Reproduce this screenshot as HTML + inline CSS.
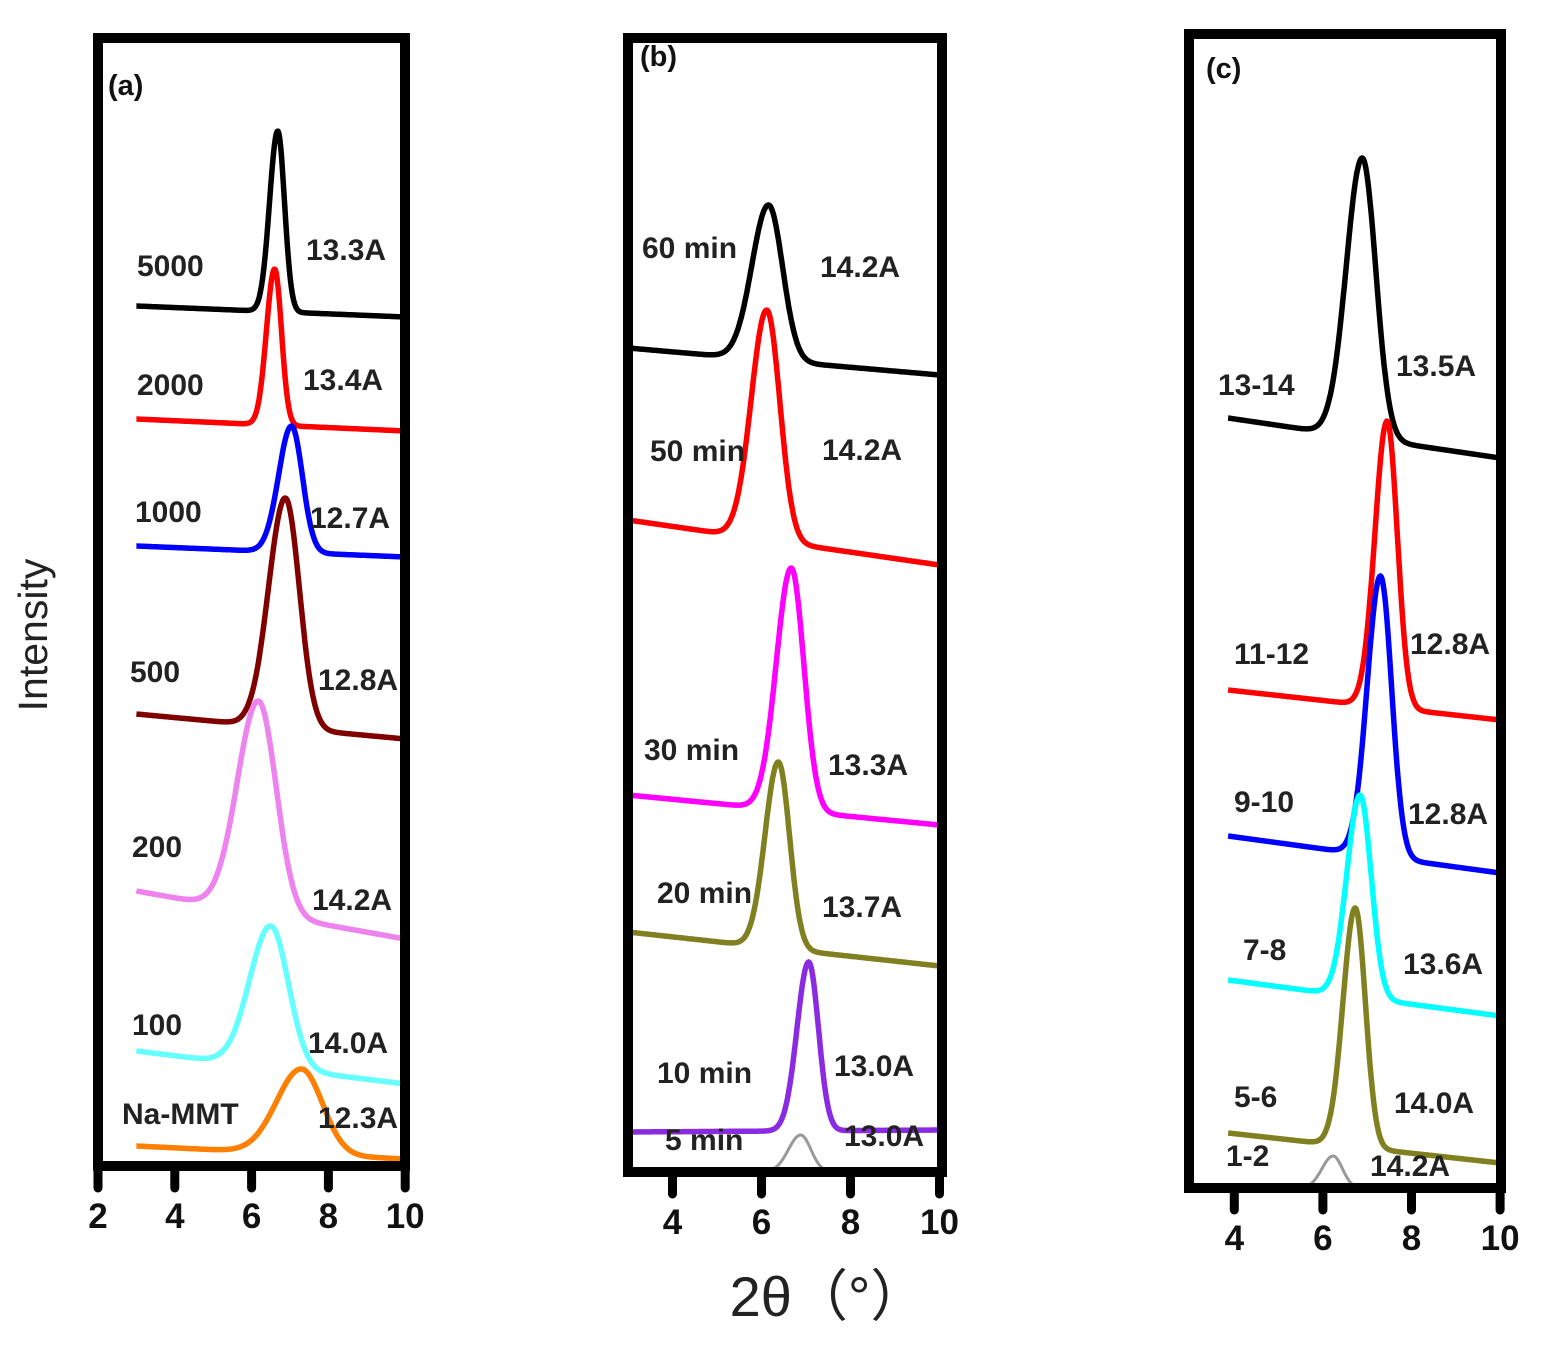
<!DOCTYPE html>
<html><head><meta charset="utf-8"><style>
html,body{margin:0;padding:0;background:#fff;}
svg{display:block;font-family:"Liberation Sans",Arial,sans-serif;}
</style></head><body>
<svg id="fig" width="1547" height="1351" viewBox="0 0 1547 1351">
<text x="47" y="635" transform="rotate(-90 47 635)" text-anchor="middle" font-size="41" fill="#222">Intensity</text>
<text x="828" y="1316" text-anchor="middle" font-size="56" fill="#222" font-family="'Liberation Sans','Noto Sans CJK SC',sans-serif">2θ（°）</text>
</svg>
<script>
// Panel (a)
const aLabels=["5000","2000","1000","500","200","100","Na-MMT"];
const aPeak=[6.68,6.6,7.04,6.88,6.18,6.5,7.3];
const aTop=[1035,897,740,668,465,240,97];
const aLeft=[860,747,620,452,275,115,20];
const aRight=[849,735,609,427,227,82,7];
const aSigma=[0.17,0.17,0.27,0.35,0.44,0.44,0.52];
const aD=["13.3A","13.4A","12.7A","12.8A","14.2A","14.0A","12.3A"];
const aColors=["#000","#f00","#00f","#800000","#ee82ee","#66ffff","#ff8000"];
// Panel (b)
const bLabels=["60 min","50 min","30 min","20 min","10 min","5 min"];
const bPeak=[6.16,6.12,6.67,6.38,7.06,6.88];
const bTop=[967,862,604,410,210,37];
const bLeft=[824,652,377,240,40,0];
const bRight=[797,607,347,206,42,0];
const bSigma=[0.3,0.28,0.27,0.24,0.21,0.22];
const bD=["14.2A","14.2A","13.3A","13.7A","13.0A","13.0A"];
const bColors=["#000","#f00","#ff00ff","#808020","#8a2be2","#999"];
// Panel (c)
const cLabels=["13-14","11-12","9-10","7-8","5-6","1-2"];
const cPeak=[6.89,7.45,7.3,6.84,6.73,6.23];
const cTop=[1030,767,612,393,280,32];
const cLeft=[770,498,352,208,55,0];
const cRight=[730,468,315,172,25,0];
const cSigma=[0.29,0.22,0.24,0.24,0.22,0.2];
const cD=["13.5A","12.8A","12.8A","13.6A","14.0A","14.2A"];
const cColors=["#000","#f00","#00f","#00ffff","#808020","#999"];

const NS="http://www.w3.org/2000/svg";
const svg=document.getElementById('fig');
function mk(t,a){const e=document.createElementNS(NS,t);for(const k in a)e.setAttribute(k,a[k]);svg.appendChild(e);return e;}

const panels=[
 {id:'a',x0:2,px0:98,ppu:38.4,fx:98,fx2:405,fy:38,fy2:1166,bottom:1166,ticks:[2,4,6,8,10],tly:1228,xs:3,xe:10,
  L:aLabels,P:aPeak,T:aTop,Le:aLeft,R:aRight,S:aSigma,D:aD,C:aColors,
  lab:[[137,276],[137,395],[135,522],[130,682],[132,857],[132,1035],[122,1124]],
  dl:[[306,260],[303,390],[310,528],[318,690],[312,910],[308,1053],[318,1128]],title:[108,95]},
 {id:'b',x0:3,px0:628,ppu:44.5,fx:628,fx2:942,fy:38,fy2:1172,bottom:1172,ticks:[4,6,8,10],tly:1234,xs:3,xe:10,
  L:bLabels,P:bPeak,T:bTop,Le:bLeft,R:bRight,S:bSigma,D:bD,C:bColors,
  lab:[[642,258],[650,461],[644,760],[657,903],[657,1083],[665,1150]],
  dl:[[820,277],[822,460],[828,775],[822,917],[834,1076],[844,1146]],title:[640,66]},
 {id:'c',x0:3,px0:1190,ppu:44.3,fx:1189,fx2:1501,fy:34,fy2:1188,bottom:1188,ticks:[4,6,8,10],tly:1250,xs:3.86,xe:10,
  L:cLabels,P:cPeak,T:cTop,Le:cLeft,R:cRight,S:cSigma,D:cD,C:cColors,
  lab:[[1218,395],[1234,664],[1234,812],[1243,960],[1234,1107],[1226,1166]],
  dl:[[1396,376],[1410,654],[1408,824],[1403,974],[1394,1113],[1370,1176]],title:[1206,78]}
];

panels.forEach(p=>{
 const X=v=>p.px0+(v-p.x0)*p.ppu;
 const Y=v=>p.bottom-v;
 p.L.forEach((name,i)=>{
  let xs=p.xs, xe=p.xe;
  const small=p.Le[i]===0;
  if(small){xs=p.P[i]-0.9;xe=p.P[i]+0.9;}
  let d='';
  for(let k=0;k<=300;k++){
   const x=xs+(xe-xs)*k/300;
   const t=(x-p.xs)/(p.xe-p.xs);
   const base=p.Le[i]+(p.R[i]-p.Le[i])*t;
   const baseP=p.Le[i]+(p.R[i]-p.Le[i])*((p.P[i]-p.xs)/(p.xe-p.xs));
   const A=p.T[i]-baseP;
   const dx=x-p.P[i];
   const s=p.S[i]*(dx<0?1.25:1.05);
   const v=base+A*Math.exp(-dx*dx/(2*s*s));
   d+=(k?'L':'M')+X(x).toFixed(1)+','+Y(v).toFixed(1);
  }
  const path=mk('path',{d:d,fill:'none',stroke:p.C[i],'stroke-width':small?3:5.5,'stroke-linejoin':'round'});
  
  
  const lt=mk('text',{x:p.lab[i][0],y:p.lab[i][1],'font-size':30,'font-weight':'bold',fill:'#222'});
  lt.textContent=name;
  
  
  const dt=mk('text',{x:p.dl[i][0],y:p.dl[i][1],'font-size':30,'font-weight':'bold',fill:'#222'});
  dt.textContent=p.D[i];
  
  
 });
 const m=mk('rect',{x:p.fx2+5,y:p.fy,width:40,height:p.fy2-p.fy,fill:'#fff'});
 
 
 const fr=mk('rect',{x:p.fx,y:p.fy,width:p.fx2-p.fx,height:p.fy2-p.fy,fill:'none',stroke:'#000','stroke-width':10});
 
 
 p.ticks.forEach(tv=>{
  const tk=mk('line',{x1:X(tv),x2:X(tv),y1:p.bottom,y2:p.bottom+22,stroke:'#000','stroke-width':9,'stroke-linecap':'round'});
  
  
  const tl=mk('text',{x:X(tv),y:p.tly,'text-anchor':'middle','font-size':35,'font-weight':'bold',fill:'#111'});
  tl.textContent=tv;
  
  
 });
 const ti=mk('text',{x:p.title[0],y:p.title[1],'font-size':29,'font-weight':'bold',fill:'#111'});
 ti.textContent='('+p.id+')';
 
 
});
</script>
</body></html>
